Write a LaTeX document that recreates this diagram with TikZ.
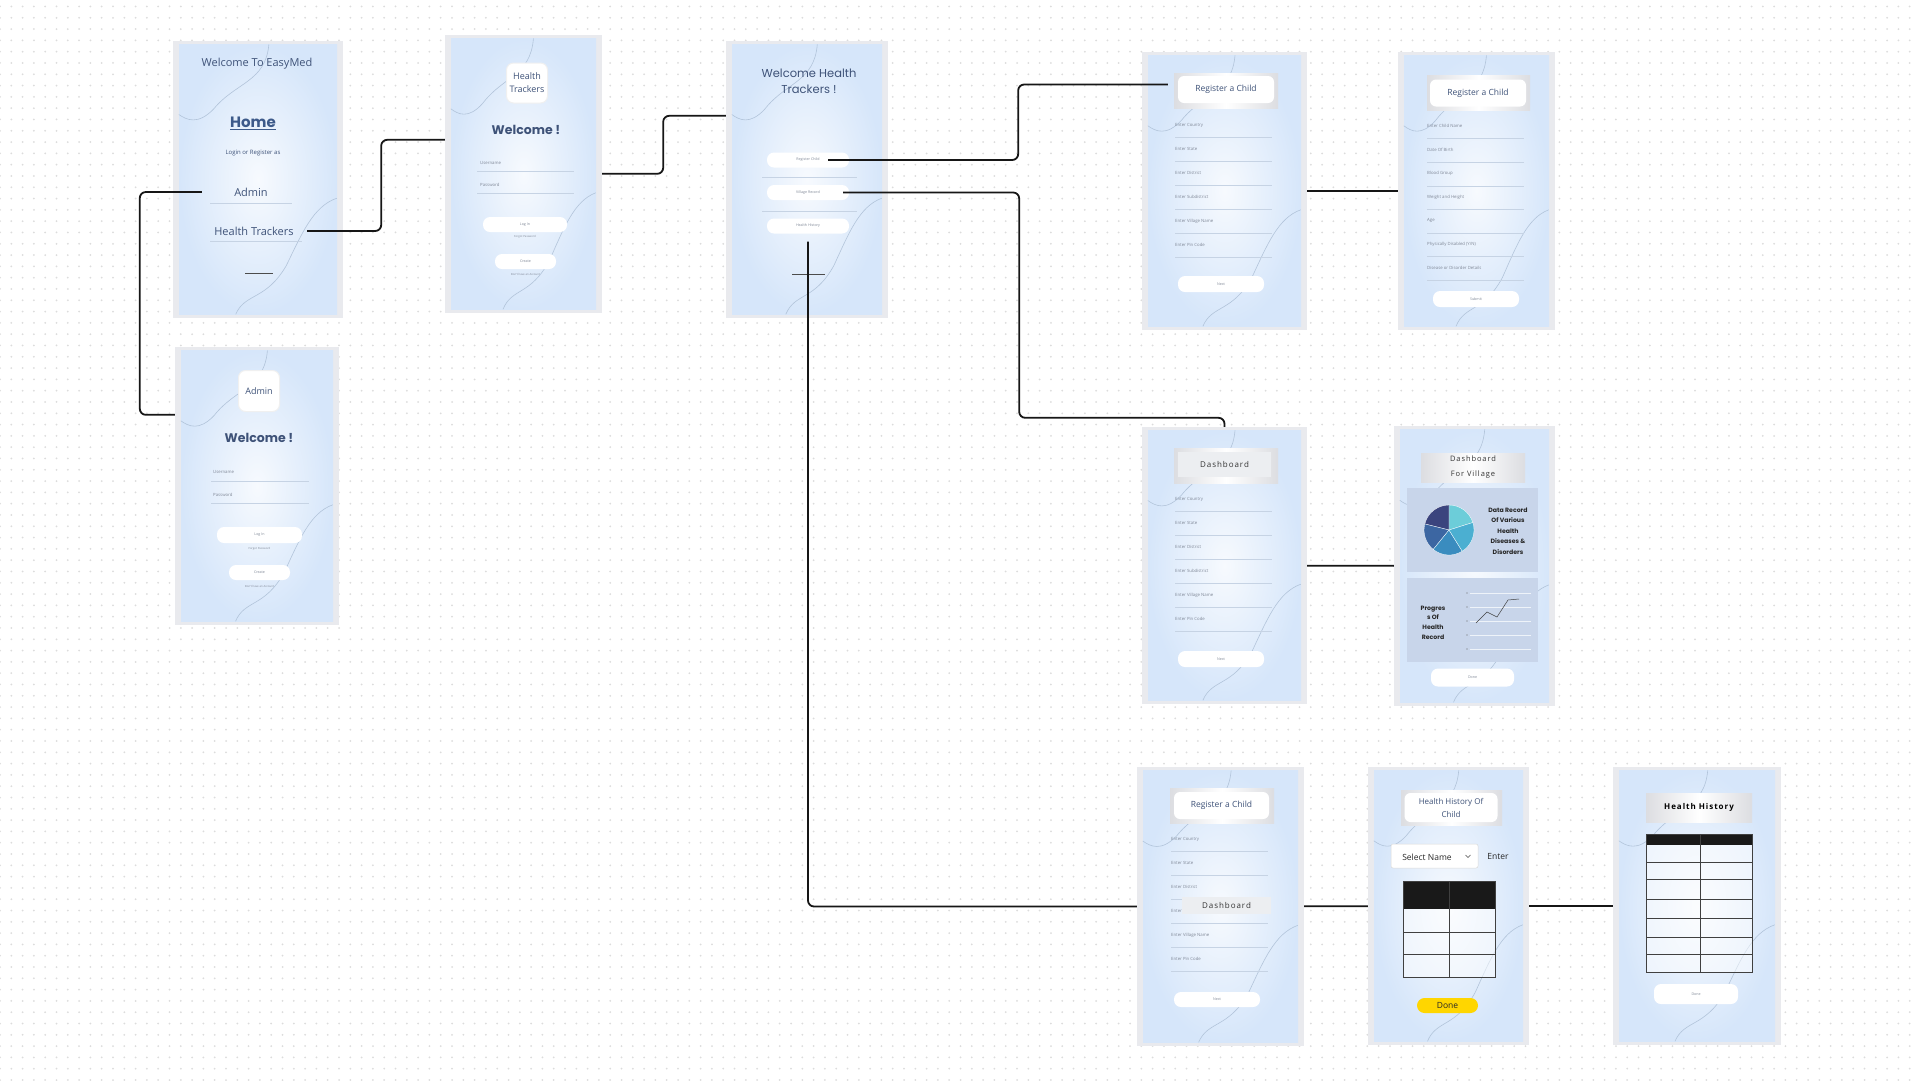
\documentclass[tikz,border=0pt]{standalone}
\usepackage{fontspec}
\setmainfont{Open Sans}
\newfontfamily\pop{Poppins}
\newfontfamily\spaced{Open Sans}[LetterSpace=12]
\usetikzlibrary{calc}
\usetikzlibrary{patterns.meta}
\usetikzlibrary{positioning}

\definecolor{framegray}{HTML}{E9EAEE}
\definecolor{panelin}{HTML}{F7FAFE}
\definecolor{panelout}{HTML}{D6E6FA}
\definecolor{wavecol}{HTML}{B2C4DA}
\definecolor{txtblue}{HTML}{3E5278}
\definecolor{homeblue}{HTML}{3D5A8A}
\definecolor{fieldgray}{HTML}{7F8796}
\definecolor{linegray}{HTML}{C6D3E4}
\definecolor{dotgray}{HTML}{DCDCDC}
\definecolor{linkcol}{HTML}{161616}
\definecolor{shadegray}{HTML}{DCDDE1}
\definecolor{titlegray}{HTML}{ECEEF1}
\definecolor{chartbg}{HTML}{C8D5EA}
\definecolor{pieA}{HTML}{6CCDD9}
\definecolor{pieB}{HTML}{4BAFD1}
\definecolor{pieC}{HTML}{3A8CBF}
\definecolor{pieD}{HTML}{3C66A2}
\definecolor{pieE}{HTML}{3B447E}
\definecolor{doneyellow}{HTML}{FFD600}

\newcommand\fsz[1]{\fontsize{#1}{#1}\selectfont}
\newcommand\fszl[2]{\fontsize{#1}{#2}\selectfont}

\newcommand\phone[4]{%
\node[phoneframe,minimum width=#3,minimum height=#4] (#1) at (#2) {};
\node[phonepanel,minimum width=#3-12,minimum height=#4-7] (#1p) at (#1) {};
\pgfmathsetmacro\pw{#3-12}\pgfmathsetmacro\ph{#4-7}
\begin{scope}[shift={(#1p.north west)}]
\draw[wave] ({.57*\pw},0) .. controls ({.55*\pw},{.14*\ph}) and ({.36*\pw},{.14*\ph}) .. ({.22*\pw},{.24*\ph}) .. controls ({.12*\pw},{.3*\ph}) and ({.05*\pw},{.28*\ph}) .. (0,{.26*\ph});
\draw[wave] (\pw,{.57*\ph}) .. controls ({.85*\pw},{.6*\ph}) and ({.78*\pw},{.7*\ph}) .. ({.68*\pw},{.82*\ph}) .. controls ({.55*\pw},{.95*\ph}) and ({.42*\pw},{.92*\ph}) .. ({.36*\pw},\ph);
\end{scope}}

\begin{document}
\begin{tikzpicture}[x=1pt,y=-1pt,inner sep=1pt,
  phoneframe/.style={fill=framegray,inner sep=0},
  phonepanel/.style={inner color=panelin,outer color=panelout,inner sep=0},
  wave/.style={draw=wavecol,line width=.6pt},
  link/.style={draw=linkcol,line width=1.8pt,rounded corners=6pt},
  txt/.style={text=txtblue,inner sep=0},
  field/.style={anchor=west,font=\fsz{4.3},text=fieldgray,inner sep=0},
  fieldline/.style={draw=linegray,line width=.6pt},
  pill/.style={fill=white,rounded corners=7pt,inner sep=0,font=\fsz{3.6},text=fieldgray},
  tiny/.style={font=\fsz{2.8},text=fieldgray,inner sep=0},
  shadowbox/.style={left color=shadegray,right color=shadegray,middle color=white,inner sep=0},
  titlebox/.style={fill=white,rounded corners=6pt,inner sep=0,text=txtblue,font=\fsz{8.5}},
  iconbox/.style={fill=white,draw=black!6,line width=1pt,rounded corners=7pt,inner sep=0,text=txtblue,font=\fszl{9}{13},align=center},
  spacedtitle/.style={inner sep=0,text=black!80,font=\spaced\fsz{8}},
  tabline/.style={draw=black!75,line width=.7pt}]

\fill[white] (0,0) rectangle (1920,1080);
\fill[pattern={Dots[radius=1pt,distance=11.3pt]},pattern color=dotgray] (0,0) rectangle (1920,1080);
\useasboundingbox (0,0) rectangle (1920,1080);

% home
\phone{home}{258,179.5}{170}{277}
\node[txt,font=\fsz{11}] (hTitle) at (257,64) {Welcome To EasyMed};
\node[inner sep=0,text=homeblue,font=\pop\bfseries\fsz{15}] (hHome) at (253,123) {\underline{Home}};
\node[txt,font=\fsz{6}] (hLogin) at (253,153) {Login or Register as};
\node[txt,font=\fsz{11},minimum width=98] (hAdmin) at (251,192) {Admin};
\draw[fieldline] (210,203) -- (292,203);
\node[txt,font=\fsz{11},minimum width=106] (hHT) at (254,231) {Health Trackers};
\draw[fieldline] (210,241) -- (302,241);
\draw[black!70,line width=1pt] (245,273) -- (273,273);

% admin
\phone{admin}{257,486}{164}{278}
\node[iconbox,minimum width=41,minimum height=41] (aTitle) at (259,391) {Admin};
\node[txt,font=\pop\bfseries\fsz{12.5}] (aWelcome) at (259,438) {Welcome !};
\node[field] (aUser) at (213,472) {Username};
\draw[fieldline] (211,481) -- (309,481);
\node[field] (aPass) at (213,495) {Password};
\draw[fieldline] (211,503) -- (309,503);
\node[pill,minimum width=85,minimum height=16] (aLogin) at (259.5,535) {Log In};
\node[tiny] (aForgot) at (259.5,549) {Forgot Password};
\node[pill,minimum width=61,minimum height=15] (aCreate) at (259.5,572.5) {Create};
\node[tiny] (aNew) at (259.5,586) {Don't have an Account};

% health trackers login
\phone{ht}{523.5,174}{157}{278}
\node[iconbox,minimum width=41,minimum height=40] (tTitle) at (527,83) {Health\\Trackers};
\node[txt,font=\pop\bfseries\fsz{12.5}] (tWelcome) at (526,130) {Welcome !};
\node[field] (tUser) at (480,163) {Username};
\draw[fieldline] (477,171) -- (574,171);
\node[field] (tPass) at (480,185) {Password};
\draw[fieldline] (477,193) -- (574,193);
\node[pill,minimum width=84,minimum height=15] (tLogin) at (525,224.5) {Log In};
\node[tiny] (tForgot) at (525,237) {Forgot Password};
\node[pill,minimum width=61,minimum height=15] (tCreate) at (525.5,261.5) {Create};
\node[tiny] (tNew) at (525.5,274) {Don't have an Account};

% welcome health trackers
\phone{wht}{807,179.5}{162}{277}
\node[txt,font=\pop\fszl{11.5}{16},align=center] (wTitle) at (809,81) {Welcome Health\\Trackers !};
\node[pill,minimum width=82,minimum height=15] (wReg) at (808,160) {};
\node[inner sep=0,font=\fsz{3.6},text=fieldgray,minimum width=40] (wRegTxt) at (808,160) {Register Child};
\draw[fieldline] (762,177) -- (857,177);
\node[pill,minimum width=82,minimum height=15] (wVil) at (808,192.5) {};
\node[inner sep=0,font=\fsz{3.6},text=fieldgray,minimum width=70] (wVilTxt) at (808,192.5) {Village Record};
\draw[fieldline] (762,211) -- (857,211);
\node[pill,minimum width=82,minimum height=15] (wHis) at (808,226) {Health History};
\draw[black!70,line width=1pt] (792,274) -- (825,274);

% register a child
\phone{rcA}{1224.5,191}{165}{278}
\node[shadowbox,minimum width=104,minimum height=35] (rcAT0) at (1226,90.5) {};
\node[titlebox,minimum width=96,minimum height=27] (rcAT) at (1226,89.5) {Register a Child};
\foreach \t [count=\i] in {Enter Country,Enter State,Enter District,Enter Subdistrict,Enter Village Name,Enter Pin Code}
  {\node[field] (rcAf\i) at (1175,101+24*\i) {\t};
   \draw[fieldline] ($(rcAf\i.west)+(0,12)$) -- ++(97,0);}
\node[pill,minimum width=86,minimum height=16] (rcANext) at (1221,284) {Next};

% register a child, second page
\phone{rcB}{1476.5,191}{157}{278}
\node[shadowbox,minimum width=103,minimum height=35] (rcBT0) at (1478.5,92.5) {};
\node[titlebox,minimum width=96,minimum height=27] (rcBT) at (1478,93) {Register a Child};
\foreach \t [count=\i] in {Enter Child Name,Date Of Birth,Blood Group,Weight and Height,Age,{Physically Disabled (Y/N)},Disease or Disorder Details}
  {\node[field] (rcBf\i) at (1427,102.5+23.6*\i) {\t};
   \draw[fieldline] ($(rcBf\i.west)+(0,12.5)$) -- ++(97,0);}
\node[pill,minimum width=86,minimum height=16] (rcBSubmit) at (1476,299) {Submit};

% dashboard
\phone{dash}{1224.5,565.5}{165}{277}
\node[shadowbox,minimum width=104,minimum height=35] (dT0) at (1226,465.5) {};
\node[spacedtitle,fill=titlegray,minimum width=93,minimum height=25] (dT) at (1224.5,464.5) {Dashboard};
\foreach \t [count=\i] in {Enter Country,Enter State,Enter District,Enter Subdistrict,Enter Village Name,Enter Pin Code}
  {\node[field] (dF\i) at (1175,475+24*\i) {\t};
   \draw[fieldline] ($(dF\i.west)+(0,12)$) -- ++(97,0);}
\node[pill,minimum width=86,minimum height=16] (dNext) at (1221,659) {Next};

% dashboard for village
\phone{dfv}{1474.5,566}{161}{280}
\node[shadowbox,spacedtitle,font=\spaced\fszl{7.5}{15},align=center,minimum width=104,minimum height=29] (vT) at (1473,467.5) {Dashboard\\For Village};
\node[fill=chartbg,inner sep=0,minimum width=131,minimum height=84] (vPie) at (1472.5,530) {};
\begin{scope}[shift={(1449,530)},y=1pt]
\fill[pieA,draw=white,line width=.3pt] (0,0) -- (17.5:25) arc[start angle=17.5,end angle=90,radius=25] -- cycle;
\fill[pieE,draw=white,line width=.3pt] (0,0) -- (90:25) arc[start angle=90,end angle=166,radius=25] -- cycle;
\fill[pieD,draw=white,line width=.3pt] (0,0) -- (166:25) arc[start angle=166,end angle=231,radius=25] -- cycle;
\fill[pieC,draw=white,line width=.3pt] (0,0) -- (231:25) arc[start angle=231,end angle=302,radius=25] -- cycle;
\fill[pieB,draw=white,line width=.3pt] (0,0) -- (302:25) arc[start angle=302,end angle=377.5,radius=25] -- cycle;
\end{scope}
\node[inner sep=0,text=black!85,font=\pop\bfseries\fszl{6.2}{10.5},align=center] (vPieTxt) at (1508,531) {Data Record\\Of Various\\Health\\Diseases \&\\Disorders};
\node[fill=chartbg,inner sep=0,minimum width=131,minimum height=84] (vChart) at (1472.5,620) {};
\node[inner sep=0,text=black!85,font=\pop\bfseries\fszl{6.2}{9.7},align=center] (vChartTxt) at (1433,622.5) {Progres\\s Of\\Health\\Record};
\foreach \r in {593,607,621,635,649}
  {\fill[black!60] (1467,\r) circle (.7);
   \draw[white!70!chartbg,line width=.4pt] (1470,\r) -- (1531,\r);}
\draw[black!75,line width=.5pt] (1476,623) -- (1487,612) -- (1497,617) -- (1508,600) -- (1519,599);
\node[pill,minimum width=83,minimum height=18] (vDone) at (1472.5,677.5) {Done};

% register a child, from health history
\phone{reg}{1220.5,906.5}{167}{279}
\node[shadowbox,minimum width=104,minimum height=35] (rT0) at (1222,805.5) {};
\node[titlebox,minimum width=95,minimum height=27] (rT) at (1221.5,805.5) {Register a Child};
\foreach \t [count=\i] in {Enter Country,Enter State,Enter District,Enter Subdistrict,Enter Village Name,Enter Pin Code}
  {\node[field] (rF\i) at (1171,815+24*\i) {\t};
   \draw[fieldline] ($(rF\i.west)+(0,12)$) -- ++(97,0);}
\node[spacedtitle,fill=titlegray,minimum width=89,minimum height=17] (rDash) at (1226.5,905.5) {Dashboard};
\node[pill,minimum width=86,minimum height=15] (rNext) at (1217,999.5) {Next};

% health history of child
\phone{hhc}{1448.5,906}{161}{278}
\node[shadowbox,minimum width=101,minimum height=35] (cT0) at (1451.5,807.5) {};
\node[titlebox,font=\fszl{8}{13},align=center,minimum width=93,minimum height=29] (cT) at (1451,807.5) {Health History Of\\Child};
\node[fill=white,draw=black!15,line width=.5pt,rounded corners=2pt,minimum width=87,minimum height=24] (cSel) at (1434.5,856) {};
\node[inner sep=0,text=black!85,font=\fsz{8.5}] (cSelTxt) at (1427,857) {Select Name};
\draw[black!70,line width=.6pt] (1465.5,855) -- (1468,857.5) -- (1470.5,855);
\node[inner sep=0,text=black!85,font=\fsz{8.5}] (cEnter) at (1498,856) {Enter};
\fill[white,fill opacity=.5] (1403,881) rectangle (1495,977);
\fill[black!90] (1403,881) rectangle (1495,909);
\draw[tabline] (1403,881) rectangle (1495,977);
\draw[tabline] (1403,932) -- (1495,932) (1403,954) -- (1495,954) (1449,881) -- (1449,977);
\node[fill=doneyellow,rounded corners=7.5pt,inner sep=0,minimum width=61,minimum height=15,font=\fsz{8.5},text=black!85] (cDone) at (1447.5,1005.5) {Done};

% health history
\phone{hh}{1697,906}{168}{278}
\node[shadowbox,minimum width=106,minimum height=29,text=black,font=\spaced\bfseries\fsz{8}] (hhT) at (1699,807.5) {Health History};
\fill[white,fill opacity=.5] (1646,834) rectangle (1752,972);
\fill[black!90] (1646,834) rectangle (1752,845);
\draw[tabline] (1646,834) rectangle (1752,972);
\foreach \r in {862,879,899,918,937,954}
  \draw[tabline] (1646,\r) -- (1752,\r);
\draw[tabline] (1700,834) -- (1700,972);
\node[pill,minimum width=84,minimum height=20] (hhDone) at (1696,994) {Done};

% links
\draw[link] (hAdmin.west) -- ++(-62,0) |- ($(admin.north west)+(0,68)$);
\draw[link] (hHT.east) -- ++(74,0) |- ($(ht.north west)+(0,105)$);
\draw[link] ($(ht.north east)+(0,139)$) -- ++(61,0) |- ($(wht.north west)+(0,75)$);
\draw[link] (wRegTxt.east) -- ++(190,0) |- ($(rcAT0.west)+(-6,-6)$);
\draw[link] (wVilTxt.east) -- ++(176,0) |- ($(dash.north)+(0,-9)$) -- (dash.north);
\draw[link] ($(wHis.south)+(0,8)$) |- (reg.west);
\draw[link] (rcA) -- (rcB);
\draw[link] (dash) -- (dfv);
\draw[link] (reg) -- (hhc);
\draw[link] (hhc) -- (hh);
\end{tikzpicture}
\end{document}
